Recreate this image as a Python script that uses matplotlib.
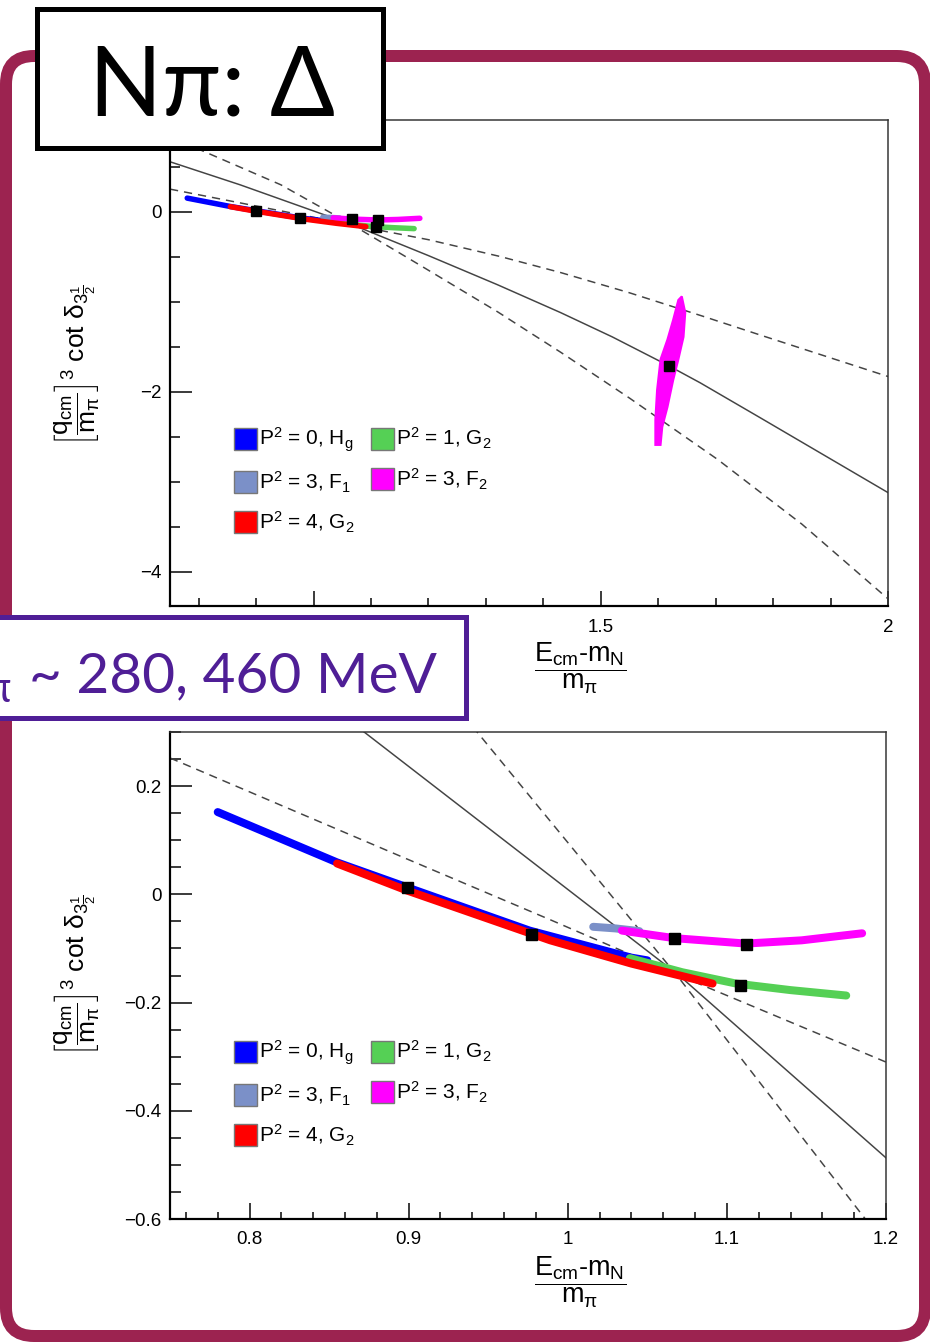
import matplotlib
matplotlib.use("Agg")
import matplotlib.pyplot as plt
from matplotlib.patches import Rectangle, FancyBboxPatch, Patch, Polygon

W, H, DPI = 930, 1342, 100

# ---- lattice bands: (E_cm - m_N)/m_pi  vs  (q/m_pi)^3 cot(delta) ----
blue_x = [0.780, 0.855, 0.899, 0.976, 1.040, 1.050]
blue_y = [0.152, 0.059, 0.013, -0.067, -0.117, -0.122]
red_x = [0.855, 0.899, 0.989, 1.040, 1.091]
red_y = [0.057, 0.007, -0.085, -0.128, -0.165]
green_x = [1.039, 1.072, 1.106, 1.140, 1.175]
green_y = [-0.118, -0.144, -0.165, -0.177, -0.187]
slate_x = [1.016, 1.030, 1.045]
slate_y = [-0.060, -0.063, -0.068]
mag_x = [1.034, 1.067, 1.112, 1.147, 1.185]
mag_y = [-0.067, -0.081, -0.091, -0.085, -0.072]
# outline of the wide P^2=3 F2 cloud near 1.62
cloud_x = [1.641, 1.647, 1.644, 1.635, 1.626, 1.616, 1.607, 1.604,
           1.595, 1.595, 1.598, 1.604, 1.616, 1.626, 1.635]
cloud_y = [-0.94, -1.12, -1.39, -1.64, -1.87, -2.17, -2.39, -2.59,
           -2.59, -2.31, -1.98, -1.64, -1.42, -1.20, -0.98]
# central values
pt_x = [0.899, 0.977, 1.067, 1.108, 1.112, 1.618]
pt_y = [0.013, -0.074, -0.081, -0.167, -0.091, -1.71]

# ---- Breit-Wigner fit and its error envelope ----
fit_x = [0.75, 0.872, 1.07, 1.20, 1.32, 1.43, 1.52, 1.618, 1.673, 1.778, 2.00]
fit_y = [0.556, 0.30, -0.15, -0.487, -0.81, -1.12, -1.39, -1.71, -1.90, -2.29, -3.12]
up_x = [0.75, 0.896, 0.989, 1.07, 1.20, 1.325, 1.43, 1.55, 1.679, 1.778, 2.00]
up_y = [0.252, 0.069, -0.047, -0.15, -0.31, -0.497, -0.675, -0.90, -1.163, -1.37, -1.83]
lo_x = [0.75, 0.802, 0.943, 1.07, 1.187, 1.32, 1.43, 1.55, 1.703, 1.85, 2.00]
lo_y = [0.83, 0.69, 0.30, -0.155, -0.60, -1.11, -1.56, -2.07, -2.75, -3.47, -4.30]

legend_labels = [r"P$^{2}$ = 0, H$_{g}$", r"P$^{2}$ = 3, F$_{1}$", r"P$^{2}$ = 4, G$_{2}$",
                 r"P$^{2}$ = 1, G$_{2}$", r"P$^{2}$ = 3, F$_{2}$"]
legend_colors = ["#0000ff", "#7b90c8", "#ff0000", "#55d055", "#ff00ff"]

top_xticks = [1.0, 1.5, 2.0]
top_xticklabels = ["1", "1.5", "2"]
top_yticks = [-4, -2, 0]
top_yticklabels = ["\u22124", "\u22122", "0"]
bot_xticks = [0.8, 0.9, 1.0, 1.1, 1.2]
bot_xticklabels = ["0.8", "0.9", "1", "1.1", "1.2"]
bot_yticks = [-0.6, -0.4, -0.2, 0.0, 0.2]
bot_yticklabels = ["\u22120.6", "\u22120.4", "\u22120.2", "0", "0.2"]

MAROON = "#9c2350"
PURPLE = "#4f1e96"
LINE = "#444444"
SLIDE_FONT = ["Lato", "Noto Sans", "DejaVu Sans"]

plt.rcParams["font.family"] = ["Liberation Sans", "DejaVu Sans"]
plt.rcParams["mathtext.fontset"] = "custom"
plt.rcParams["mathtext.rm"] = "Liberation Sans"
plt.rcParams["mathtext.it"] = "Liberation Sans"
plt.rcParams["mathtext.sf"] = "Liberation Sans"
plt.rcParams["mathtext.bf"] = "Liberation Sans:bold"

fig = plt.figure(figsize=(W / DPI, H / DPI), dpi=DPI)
fig.patch.set_facecolor("white")

PX = 72.0 / DPI  # points per pixel


def axes_px(left, top, right, bottom):
    return [left / W, 1 - bottom / H, (right - left) / W, (bottom - top) / H]


def frame(ax, xlim, ylim, xt, xtl, xminor, yt, ytl, yminor, ymaj_len, ymin_len, xmaj_len, xmin_len):
    ax.set_xlim(*xlim)
    ax.set_ylim(*ylim)
    ax.set_xticks(xt)
    ax.set_xticklabels(xtl)
    ax.set_xticks(xminor, minor=True)
    ax.set_yticks(yt)
    ax.set_yticklabels(ytl)
    ax.set_yticks(yminor, minor=True)
    ax.tick_params(axis="y", which="major", direction="in", length=ymaj_len * PX, width=1.5 * PX,
                   labelsize=13.5, pad=6)
    ax.tick_params(axis="y", which="minor", direction="in", length=ymin_len * PX, width=1.5 * PX)
    ax.tick_params(axis="x", which="major", direction="in", length=xmaj_len * PX, width=1.5 * PX,
                   labelsize=13.5, pad=9)
    ax.tick_params(axis="x", which="minor", direction="in", length=xmin_len * PX, width=1.5 * PX)
    for s in ("left", "bottom"):
        ax.spines[s].set_linewidth(2.2 * PX)
        ax.spines[s].set_color("black")
    for s in ("top", "right"):
        ax.spines[s].set_linewidth(1.5 * PX)
        ax.spines[s].set_color("#333333")


def draw_content(ax, band_lw, marker_px):
    dash = dict(color=LINE, lw=1.5 * PX, ls=(0, (5.5, 4.0)))
    ax.plot(up_x, up_y, **dash, zorder=2)
    ax.plot(lo_x, lo_y, **dash, zorder=2)
    ax.plot(fit_x, fit_y, color=LINE, lw=1.5 * PX, zorder=2)
    kw = dict(lw=band_lw, solid_capstyle="round", solid_joinstyle="round", zorder=3)
    ax.plot(blue_x, blue_y, color=legend_colors[0], **kw)
    ax.plot(green_x, green_y, color=legend_colors[3], **kw)
    ax.plot(slate_x, slate_y, color=legend_colors[1], **kw)
    ax.plot(mag_x, mag_y, color=legend_colors[4], **kw)
    ax.plot(red_x, red_y, color=legend_colors[2], **kw)
    ax.add_patch(Polygon(list(zip(cloud_x, cloud_y)), closed=True, facecolor=legend_colors[4],
                         edgecolor=legend_colors[4], lw=1.5, zorder=3))
    ax.plot(pt_x, pt_y, ls="none", marker="s", color="black", markersize=marker_px * PX, zorder=5)
    handles = [Patch(facecolor=c, edgecolor="#777777", lw=1.0) for c in legend_colors]
    return handles


def add_legend(ax, handles, top_px):
    ax.legend(handles, legend_labels, ncol=2, loc="upper left",
              bbox_to_anchor=(234 / W, 1 - top_px / H), bbox_transform=fig.transFigure,
              frameon=False, fontsize=15, handlelength=1.1, handleheight=1.25,
              handletextpad=0.12, columnspacing=0.75, labelspacing=0.72, borderpad=0,
              borderaxespad=0)


# ---- upper panel: wide energy range ----
ax1 = fig.add_axes(axes_px(170, 120, 888, 606))
frame(ax1, (0.75, 2.0), (-4.38, 1.02), top_xticks, top_xticklabels,
      [0.8, 0.9, 1.1, 1.2, 1.3, 1.4, 1.6, 1.7, 1.8, 1.9],
      top_yticks, top_yticklabels, [-4 + 0.5 * i for i in range(11)],
      22, 10, 15, 8)
h1 = draw_content(ax1, 5.5 * PX, 10.5)
add_legend(ax1, h1, 426)

# ---- lower panel: zoom near threshold ----
ax2 = fig.add_axes(axes_px(170, 732, 886, 1219))
frame(ax2, (0.75, 1.2), (-0.6, 0.3), bot_xticks, bot_xticklabels,
      [0.76 + 0.02 * i for i in range(22)],
      bot_yticks, bot_yticklabels, [-0.6 + 0.05 * i for i in range(19)],
      22, 11, 16, 7)
h2 = draw_content(ax2, 8 * PX, 11)
add_legend(ax2, h2, 1039)

# ---- slide decorations and axis titles ----
ov = fig.add_axes([0, 0, 1, 1], zorder=10)
ov.set_xlim(0, W)
ov.set_ylim(H, 0)
ov.axis("off")

ov.add_patch(FancyBboxPatch((6, 56), 919, 1280, boxstyle="round,pad=0,rounding_size=28",
                            lw=12 * PX, edgecolor=MAROON, facecolor="none", zorder=1))
ov.add_patch(Rectangle((37, 9), 346, 139, lw=5 * PX, edgecolor="black", facecolor="white", zorder=3))
title = ov.text(212, 116, "N\u03c0: \u0394", ha="center", va="baseline", fontsize=68,
                family=SLIDE_FONT, color="black", zorder=4)

ov.add_patch(Rectangle((-10, 617), 476, 101, lw=5 * PX, edgecolor=PURPLE, facecolor="white", zorder=3))
mass = ov.text(437, 692, "~ 280, 460 MeV", ha="right", va="baseline", fontsize=44,
               family=SLIDE_FONT, color=PURPLE, zorder=4)
ov.text(11, 702, "\u03c0", ha="right", va="baseline", fontsize=30,
        family=SLIDE_FONT, color=PURPLE, zorder=4)

xlab = r"$\dfrac{E_{cm}\text{-}m_{N}}{m_{\pi}}$"
ylab = r"$\left[\dfrac{q_{cm}}{m_{\pi}}\right]^{3}$ cot $\delta_{3\frac{1}{2}}$"
for yc in (668, 1282):
    ov.text(580, yc, xlab, ha="center", va="center", fontsize=19.5, zorder=4)
for yc in (365, 975):
    ov.text(77, yc, ylab, ha="center", va="center", rotation=90, fontsize=19, zorder=4)

# size the slide-font texts to the widths they occupy on the slide
fig.canvas.draw()
_r = fig.canvas.get_renderer()
for txt, width_px in ((title, 246.0), (mass, 408.0)):
    w = txt.get_window_extent(_r).width
    txt.set_fontsize(txt.get_fontsize() * width_px / w)

fig.savefig("out.png", dpi=DPI, facecolor="white")
